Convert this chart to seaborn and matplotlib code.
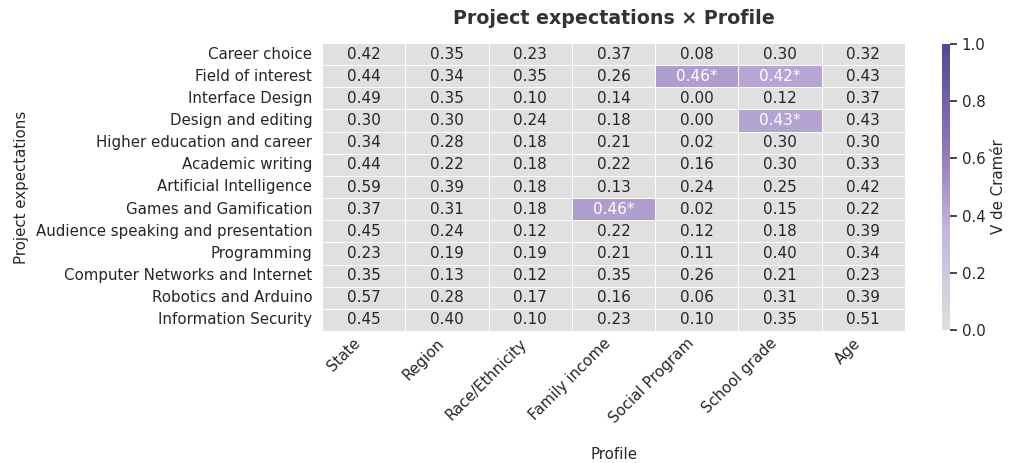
import numpy as np
import pandas as pd
import matplotlib
matplotlib.use("Agg")
import matplotlib.pyplot as plt
import seaborn as sns
from matplotlib.colors import LinearSegmentedColormap, ListedColormap

expectations = [
    "Career choice", "Field of interest", "Interface Design", "Design and editing",
    "Higher education and career", "Academic writing", "Artificial Intelligence",
    "Games and Gamification", "Audience speaking and presentation", "Programming",
    "Computer Networks and Internet", "Robotics and Arduino", "Information Security",
]
profiles = ["State", "Region", "Race/Ethnicity", "Family income",
            "Social Program", "School grade", "Age"]

state = [0.42, 0.44, 0.49, 0.30, 0.34, 0.44, 0.59, 0.37, 0.45, 0.23, 0.35, 0.57, 0.45]
region = [0.35, 0.34, 0.35, 0.30, 0.28, 0.22, 0.39, 0.31, 0.24, 0.19, 0.13, 0.28, 0.40]
race = [0.23, 0.35, 0.10, 0.24, 0.18, 0.18, 0.18, 0.18, 0.12, 0.19, 0.12, 0.17, 0.10]
income = [0.37, 0.26, 0.14, 0.18, 0.21, 0.22, 0.13, 0.46, 0.22, 0.21, 0.35, 0.16, 0.23]
social = [0.08, 0.46, 0.00, 0.00, 0.02, 0.16, 0.24, 0.02, 0.12, 0.11, 0.26, 0.06, 0.10]
grade = [0.30, 0.42, 0.12, 0.43, 0.30, 0.30, 0.25, 0.15, 0.18, 0.40, 0.21, 0.31, 0.35]
age = [0.32, 0.43, 0.37, 0.43, 0.30, 0.33, 0.42, 0.22, 0.39, 0.34, 0.23, 0.39, 0.51]

# significant cells: (expectation, profile)
significant = [
    ("Field of interest", "Social Program"),
    ("Field of interest", "School grade"),
    ("Design and editing", "School grade"),
    ("Games and Gamification", "Family income"),
]

df = pd.DataFrame({p: v for p, v in zip(profiles, [state, region, race, income, social, grade, age])},
                  index=expectations)
sig = pd.DataFrame(False, index=expectations, columns=profiles)
for r, c in significant:
    sig.loc[r, c] = True

labels = df.map(lambda v: f"{v:.2f}").values.astype(object)
for i, r in enumerate(expectations):
    for j, c in enumerate(profiles):
        if sig.loc[r, c]:
            labels[i, j] = labels[i, j] + "*"

sns.set_theme(style="ticks")
plt.rcParams['font.family'] = ['DejaVu Sans']

fig = plt.figure(figsize=(10.14, 4.63), dpi=100)
ax = fig.add_axes([322/1014, 1 - 331/463, (905-322)/1014, (331-43)/463])
cax = fig.add_axes([942/1014, 1 - 330/463, 8/1014, (330-44)/463])

grey = "#e0e0e0"
cmap = LinearSegmentedColormap.from_list(
    "vc", [(0.0, "#dedede"), (0.35, "#c3b5dc"), (0.65, "#8a76b8"), (1.0, "#564597")])

# base layer: all cells grey
sns.heatmap(df, ax=ax, cmap=ListedColormap([grey]), cbar=False,
            linewidths=0.5, linecolor="white", annot=False)
# significant cells coloured
sns.heatmap(df, ax=ax, mask=~sig.values, cmap=cmap, vmin=0, vmax=1,
            cbar=True, cbar_ax=cax, linewidths=0.5, linecolor="white", annot=False)

for i in range(len(expectations)):
    for j in range(len(profiles)):
        col = "white" if sig.values[i, j] else "#262626"
        ax.text(j + 0.5, i + 0.5, labels[i, j], ha="center", va="center",
                fontsize=11, color=col)

ax.tick_params(axis="x", length=0, labelsize=10.8, pad=3.5)
ax.tick_params(axis="y", length=0, labelsize=10.8, pad=7)
ax.set_xticklabels(profiles, rotation=45, ha="right", rotation_mode="default")
ax.set_yticklabels(expectations, rotation=0)
ax.set_xlabel("Profile", fontsize=10.8, labelpad=15)
ax.set_ylabel("Project expectations", fontsize=10.8, labelpad=5)
ax.set_title("Project expectations × Profile", fontsize=13.7, fontweight="bold", pad=14,
             color="#333333")

cax.set_ylabel("V de Cramér", fontsize=10.8)
cax.tick_params(labelsize=10.8, length=5, width=1.2)
cax.set_yticks([0, 0.2, 0.4, 0.6, 0.8, 1.0])
cax.set_yticklabels(["0.0", "0.2", "0.4", "0.6", "0.8", "1.0"])
for s in cax.spines.values():
    s.set_visible(False)

fig.savefig("out.png", dpi=100)
